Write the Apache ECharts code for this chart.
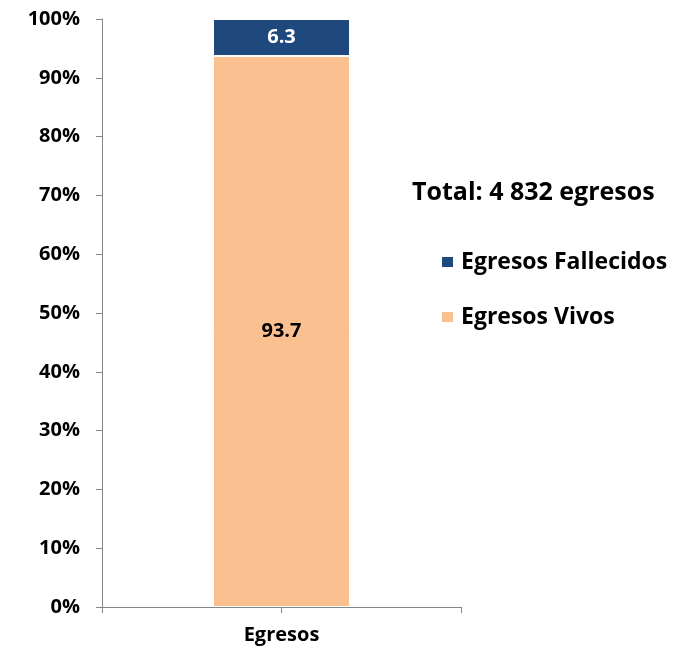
<!DOCTYPE html>
<html><head><meta charset="utf-8">
<script src="https://cdn.jsdelivr.net/npm/echarts@6/dist/echarts.min.js"></script>
<style>html,body{margin:0;padding:0;background:#fff}#c{width:684px;height:650px}</style>
</head><body><div id="c"></div>
<script>
const categories = ['Egresos'];
const fallecidos = [6.3];
const vivos = [93.7];
const yTicks = [0,10,20,30,40,50,60,70,80,90,100];
const titleText = 'Total: 4 832 egresos';
const FONT = 'Open Sans';
const chart = echarts.init(document.getElementById('c'));
chart.setOption({
  animation: false,
  title: { text: titleText, left: 412, top: 178, padding: 0,
    textStyle: { fontFamily: FONT, fontWeight: 'bold', fontSize: 25, color: '#000', lineHeight: 30 } },
  legend: {
    orient: 'vertical', left: 440, top: 247, itemGap: 25, padding: 0,
    icon: 'rect', itemWidth: 13, itemHeight: 12,
    data: ['Egresos Fallecidos', 'Egresos Vivos'],
    textStyle: { fontFamily: FONT, fontWeight: 'bold', fontSize: 23, color: '#000', lineHeight: 30, padding: [0,0,0,2] }
  },
  grid: { left: 102, right: 223, top: 19, bottom: 43, containLabel: false },
  xAxis: [{
    type: 'category', data: categories,
    axisLine: { lineStyle: { color: '#868686', width: 1 } },
    axisTick: { show: true, length: 6, lineStyle: { color: '#868686' } },
    axisLabel: { margin: 18, fontFamily: FONT, fontWeight: 'bold', fontSize: 20, color: '#000' }
  }, {
    type: 'category', data: categories, position: 'bottom',
    axisLine: { show: false },
    axisTick: { show: true, alignWithLabel: true, length: 6, lineStyle: { color: '#868686' } },
    axisLabel: { show: false }
  }],
  yAxis: {
    type: 'value', min: 0, max: 100, interval: 10,
    axisLine: { show: true, lineStyle: { color: '#868686' } },
    axisTick: { show: true, length: 6, lineStyle: { color: '#868686' } },
    splitLine: { show: false },
    axisLabel: { margin: 22, fontFamily: FONT, fontWeight: 'bold', fontSize: 20, color: '#000',
      formatter: v => yTicks.includes(v) ? v + '%' : '' }
  },
  series: [{
    name: 'Egresos Vivos', type: 'bar', stack: 'a', data: vivos, barWidth: 137,
    itemStyle: { color: '#FAC090', borderColor: '#fff', borderWidth: 1 },
    label: { show: true, position: 'inside', fontFamily: FONT, fontWeight: 'bold', fontSize: 20, color: '#000', formatter: p => p.value.toFixed(1) }
  }, {
    name: 'Egresos Fallecidos', type: 'bar', stack: 'a', data: fallecidos, barWidth: 137,
    itemStyle: { color: '#1F497D', borderColor: '#fff', borderWidth: 1 },
    label: { show: true, position: 'inside', fontFamily: FONT, fontWeight: 'bold', fontSize: 20, color: '#fff', formatter: p => p.value.toFixed(1) }
  }]
});
</script></body></html>
